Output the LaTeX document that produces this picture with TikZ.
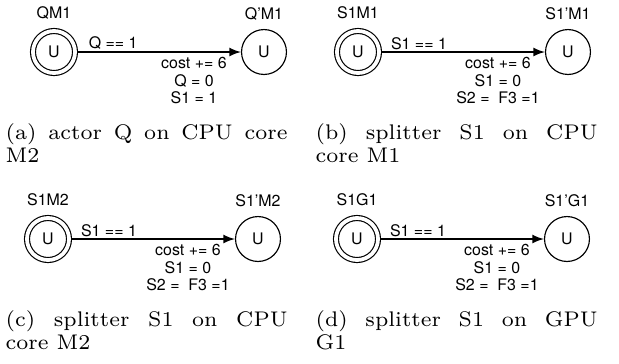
\documentclass[tikz,border=0pt]{standalone}
\usepackage{fontspec}
\newfontfamily\lblfont{TeX Gyre Heros}
\newfontfamily\capfont{lmroman7-regular.otf}
\usetikzlibrary{arrows}
\usetikzlibrary{math, positioning}
\lineskiplimit=-5pt

\tikzset{
  lbl/.style={font=\lblfont\fontsize{5.5}{6.05}\selectfont, inner sep=0pt, align=center},
  loc/.style={circle, draw, minimum size=15.5pt, inner sep=0pt, font=\lblfont\fontsize{5.5}{6.05}\selectfont},
  initloc/.style={loc, minimum size=14.5pt, double, double distance=1.3pt, outer sep=1.05pt},
  subcap/.style={text width=97.3pt, align=justify, inner sep=0pt, anchor=north west,
    font=\capfont\fontsize{7.3}{6.6}\selectfont},
  trans/.style={-latex},
}

\begin{document}
\begin{tikzpicture}[x=0.345pt, y=-0.345pt]
\tikzmath{
\dx=210;
\cy=52;
\ry=187;
}
\useasboundingbox (0,0) rectangle (619,363);

%%%%%%%%%%  top left, actor Q
\begin{scope}[shift={(0,0)}]
\node[initloc] (qm) at (54,\cy) {U};
\node[loc] (qpm) at (54+\dx,\cy) {U};
\node[lbl, above=2.8pt of qm] (qmname) {QM1};
\node[lbl, above=2.8pt of qpm] (qpmname) {Q’M1};
\draw[trans] (qm) -- (qpm)
  node[pos=0, lbl, anchor=south west, xshift=3.5pt, yshift=0.6pt] (qguard) {Q == 1}
  node[pos=1, lbl, anchor=north, xshift=-16.2pt, yshift=-1.7pt] (qupd) {cost += 6\\Q = 0\\S1 = 1};
\node[subcap] (capa) at (5,123) {(a) actor Q on CPU core\linebreak M2};
\end{scope}

%%%%%%%%%%  top right, splitter on M1
\begin{scope}[shift={(310,0)}]
\node[initloc] (sma) at (48,\cy) {U};
\node[loc] (spma) at (48+\dx,\cy) {U};
\node[lbl, above=2.8pt of sma] (smaname) {S1M1};
\node[lbl, above=2.8pt of spma] (spmaname) {S1’M1};
\draw[trans] (sma) -- (spma)
  node[pos=0, lbl, anchor=south west, xshift=2.9pt, yshift=0.6pt] (smaguard) {S1 == 1}
  node[pos=1, lbl, anchor=north, xshift=-16.2pt, yshift=-1.7pt] (smaupd) {cost += 6\\S1 = 0\\S2 =~ F3 =1};
\node[subcap] (capb) at (5,123) {(b) splitter S1 on CPU\linebreak core M1};
\end{scope}

%%%%%%%%%%  bottom left, splitter on M2
\begin{scope}[shift={(0,\ry)}]
\node[initloc] (smb) at (48,\cy) {U};
\node[loc] (spmb) at (48+\dx,\cy) {U};
\node[lbl, above=2.8pt of smb] (smbname) {S1M2};
\node[lbl, above=2.8pt of spmb] (spmbname) {S1’M2};
\draw[trans] (smb) -- (spmb)
  node[pos=0, lbl, anchor=south west, xshift=2.9pt, yshift=0.4pt] (smbguard) {S1 == 1}
  node[pos=1, lbl, anchor=north, xshift=-16.2pt, yshift=-1.7pt] (smbupd) {cost += 6\\S1 = 0\\S2 =~ F3 =1};
\node[subcap] (capc) at (5,123) {(c) splitter S1 on CPU\linebreak core M2};
\end{scope}

%%%%%%%%%%  bottom right, splitter on G1
\begin{scope}[shift={(310,\ry)}]
\node[initloc] (sg) at (47,\cy) {U};
\node[loc] (spg) at (47+\dx,\cy) {U};
\node[lbl, above=2.8pt of sg] (sgname) {S1G1};
\node[lbl, above=2.8pt of spg] (spgname) {S1’G1};
\draw[trans] (sg) -- (spg)
  node[pos=0, lbl, anchor=south west, xshift=2.9pt, yshift=0.4pt] (sgguard) {S1 == 1}
  node[pos=1, lbl, anchor=north, xshift=-16.2pt, yshift=-1.7pt] (sgupd) {cost += 6\\S1 = 0\\S2 =~ F3 =1};
\node[subcap] (capd) at (5,123) {(d) splitter S1 on GPU\linebreak G1};
\end{scope}
\end{tikzpicture}
\end{document}
